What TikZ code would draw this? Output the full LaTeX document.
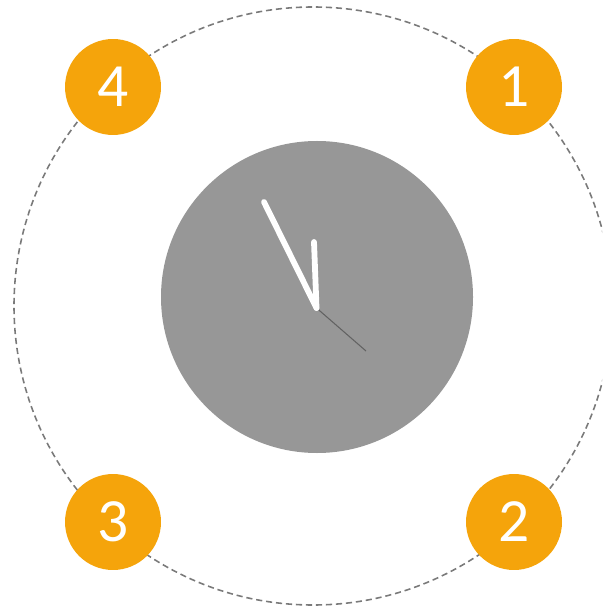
\documentclass[tikz,border=0pt]{standalone}
\usepackage{fontspec}
\setmainfont{Carlito}
\usepackage{tikz}

\definecolor{stepcol}{HTML}{F5A40B}
\definecolor{facecol}{HTML}{979797}
\definecolor{ringcol}{HTML}{7A7A7A}

\tikzset{
  marker/.style={circle, fill=stepcol, minimum size=1.92cm, inner sep=0pt,
    text=white, font=\fontsize{35}{35}\selectfont},
  hand/.style={white, line width=3.3pt, line cap=round}
}

\begin{document}
\begin{tikzpicture}[x=0.02cm, y=-0.02cm]

\useasboundingbox (0,0) rectangle (602,607);

% outer dashed ring
\begin{scope}
\clip (0,0) rectangle (602,607);
\draw[ringcol, line width=0.9pt, dash pattern=on 3.5pt off 2.2pt] (313,306) circle (299);
\end{scope}

% clock face
\fill[facecol] (317,297) circle (156);
\coordinate (hub) at (316.5,308);
\coordinate (minutetip) at (264,202);
\coordinate (hourtip) at (314,242);
\coordinate (secondtip) at (366,351);

% hands
\draw[ringcol!80!black, line width=0.6pt] (hub) -- (secondtip);
\draw[hand] (hub) -- (minutetip);
\draw[hand] (hub) -- (hourtip);

% numbered markers
\node[marker] (one) at (514,87) {1};
\node[marker] (two) at (514,522) {2};
\node[marker] (three) at (113,522) {3};
\node[marker] (four) at (113,87) {4};

\end{tikzpicture}
\end{document}
